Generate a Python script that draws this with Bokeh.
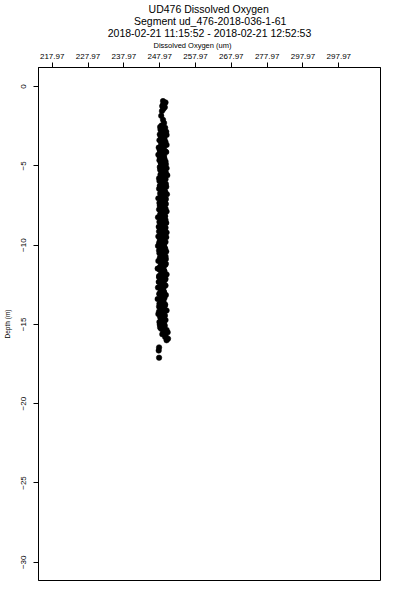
from bokeh.plotting import figure
from bokeh.models import FixedTicker, Range1d, ColumnDataSource, Title
from bokeh.embed import file_html
from bokeh.resources import INLINE

title_lines = ["UD476 Dissolved Oxygen",
               "Segment ud_476-2018-036-1-61",
               "2018-02-21 11:15:52 - 2018-02-21 12:52:53"]
title_indent = [14, 9, 0]  # leading no-break spaces that centre each line in the block
x_label = "Dissolved Oxygen (um)"
y_label = "Depth (m)"

x_ticks = [217.97, 227.97, 237.97, 247.97, 257.97, 267.97, 277.97, 287.97, 297.97]
x_tick_labels = ["217.97", "227.97", "237.97", "247.97", "257.97", "267.97", "277.97", "297.97", "297.97"]
y_ticks = [0, -5, -10, -15, -20, -25, -30]

depth_a = [
    -0.92, -1.05, -1.18, -1.30, -1.42, -1.55, -1.85, -2.10, -2.45, -2.60,
    -2.72, -2.85, -2.95, -3.05, -3.15, -3.25, -3.38, -3.50, -3.62, -3.75,
    -3.85, -3.96, -4.08, -4.18, -4.30, -4.42, -4.55, -4.65, -4.78, -4.90,
    -5.02, -5.15, -5.25, -5.38, -5.50, -5.60, -5.72, -5.85, -5.95, -6.08,
    -6.20, -6.32, -6.45, -6.55, -6.68, -6.80, -6.92, -7.05, -7.15, -7.28,
    -7.40, -7.52, -7.65, -7.75, -7.88, -8.00, -8.12, -8.25, -8.35, -8.48,
    -8.60, -8.72, -8.85, -8.95, -9.08, -9.20, -9.32, -9.45, -9.55, -9.68,
    -9.80, -9.92, -10.05, -10.15, -10.28, -10.40, -10.52, -10.65, -10.75, -10.88,
    -11.00, -11.12, -11.25, -11.35, -11.48, -11.60, -11.72, -11.85, -11.95, -12.08,
    -12.20, -12.32, -12.45, -12.55, -12.68, -12.80, -12.92, -13.05, -13.15, -13.28,
    -13.40, -13.52, -13.65, -13.75, -13.88, -14.00, -14.12, -14.25, -14.35, -14.48,
    -14.60, -14.72, -14.85, -14.95, -15.08, -15.20, -15.35, -15.50, -15.70, -15.90,
    -16.45, -16.65, -17.10,
]
oxygen_a = [
    248.9, 249.3, 248.8, 249.4, 249.0, 248.6, 248.4, 248.9, 248.5, 249.5,
    248.2, 249.8, 248.9, 249.9, 248.3, 249.2, 247.9, 249.6, 248.4, 249.1,
    247.7, 248.8, 249.5, 248.1, 247.6, 248.7, 249.3, 247.9, 248.4, 249.7,
    248.6, 249.9, 248.1, 249.4, 248.8, 250.1, 248.3, 249.6, 247.9, 249.0,
    248.5, 249.8, 247.8, 249.2, 248.4, 250.0, 248.9, 247.6, 249.5, 248.2,
    249.7, 248.0, 249.1, 247.8, 249.9, 248.6, 249.3, 247.5, 249.0, 248.3,
    249.8, 248.7, 247.7, 249.4, 248.1, 249.9, 248.5, 247.6, 249.2, 248.0,
    249.6, 248.8, 247.5, 249.3, 248.2, 249.8, 247.9, 249.0, 248.4, 249.7,
    247.6, 248.9, 249.5, 248.1, 247.4, 249.2, 248.6, 249.9, 247.8, 248.5,
    249.4, 247.7, 248.8, 249.6, 247.5, 248.3, 249.1, 247.9, 249.7, 248.6,
    247.4, 249.0, 248.2, 249.5, 247.8, 248.7, 249.9, 248.0, 247.6, 249.3,
    248.5, 249.6, 247.9, 248.8, 249.4, 248.1, 249.9, 250.2, 249.6, 250.3,
    247.8, 247.7, 247.8,
]
depth_b = [
    -1.00, -1.25, -2.30, -2.55, -2.68, -2.80, -2.92, -3.02, -3.12, -3.22,
    -3.33, -3.45, -3.56, -3.68, -3.80, -3.90, -4.02, -4.13, -4.24, -4.36,
    -4.48, -4.60, -4.72, -4.84, -4.96, -5.08, -5.20, -5.32, -5.44, -5.55,
    -5.66, -5.78, -5.90, -6.02, -6.14, -6.26, -6.38, -6.50, -6.62, -6.74,
    -6.86, -6.98, -7.10, -7.22, -7.34, -7.46, -7.58, -7.70, -7.82, -7.94,
    -8.06, -8.18, -8.30, -8.42, -8.54, -8.66, -8.78, -8.90, -9.02, -9.14,
    -9.26, -9.38, -9.50, -9.62, -9.74, -9.86, -9.98, -10.10, -10.22, -10.34,
    -10.46, -10.58, -10.70, -10.82, -10.94, -11.06, -11.18, -11.30, -11.42, -11.54,
    -11.66, -11.78, -11.90, -12.02, -12.14, -12.26, -12.38, -12.50, -12.62, -12.74,
    -12.86, -12.98, -13.10, -13.22, -13.34, -13.46, -13.58, -13.70, -13.82, -13.94,
    -14.06, -14.18, -14.30, -14.42, -14.54, -14.66, -14.78, -14.90, -15.02, -15.14,
    -15.28, -15.45, -15.62, -15.80, -16.00,
]
oxygen_b = [
    249.6, 248.7, 249.2, 248.1, 249.0, 248.6, 249.4, 248.0, 249.1, 248.5,
    249.3, 248.3, 248.8, 249.9, 248.5, 249.1, 248.0, 249.8, 248.9, 249.2,
    248.0, 249.0, 249.6, 248.3, 249.1, 248.0, 249.3, 248.5, 249.7, 248.2,
    249.4, 247.8, 249.0, 248.5, 249.7, 248.0, 249.1, 248.8, 249.5, 248.1,
    249.0, 248.3, 249.7, 248.9, 247.9, 249.3, 248.5, 249.6, 248.3, 249.2,
    248.1, 249.5, 248.4, 249.6, 247.9, 249.1, 248.3, 249.6, 248.9, 247.8,
    249.1, 248.3, 249.8, 248.6, 249.0, 247.8, 249.2, 248.7, 249.5, 247.8,
    249.0, 248.5, 249.6, 248.0, 249.1, 248.3, 249.7, 248.4, 249.0, 247.9,
    249.3, 248.4, 249.0, 247.8, 249.6, 248.2, 248.9, 249.3, 248.0, 249.0,
    248.4, 249.2, 247.9, 248.7, 249.3, 248.2, 249.0, 247.9, 249.4, 248.6,
    249.1, 247.8, 248.7, 249.4, 248.1, 248.9, 248.3, 249.2, 248.0, 248.7,
    248.4, 249.0, 248.7, 249.5, 249.9,
]

FONT = "Liberation Sans"

p = figure(frame_width=342, frame_height=513, title=None,
           x_range=Range1d(214.15, 309.6), y_range=Range1d(-31.15, 1.2),
           x_axis_location="above", y_axis_location="left",
           output_backend="svg", toolbar_location=None,
           min_border_left=38, min_border_right=20, min_border_top=67, min_border_bottom=20,
           background_fill_color="white", border_fill_color="white")

p.grid.visible = False
p.outline_line_color = "black"
p.outline_line_width = 1
p.outline_line_alpha = 1.0

xa = p.xaxis[0]
xa.ticker = FixedTicker(ticks=x_ticks)
xa.major_label_overrides = {t: l for t, l in zip(x_ticks, x_tick_labels)}
ya = p.yaxis[0]
ya.ticker = FixedTicker(ticks=y_ticks)
ya.major_label_orientation = "vertical"
ya.axis_label = y_label
ya.axis_label_text_font = FONT
ya.axis_label_text_font_size = "6.5px"
ya.axis_label_text_font_style = "normal"
ya.axis_label_text_color = "black"
ya.axis_label_standoff = 8
for ax in (xa, ya):
    ax.major_label_text_font = FONT
    ax.major_label_text_font_size = "8px"
    ax.major_label_text_color = "black"
    ax.major_tick_out = 5
    ax.major_tick_in = 0
    ax.minor_tick_out = 0
    ax.minor_tick_in = 0
    ax.major_tick_line_color = "black"
    ax.axis_line_color = "black"
xa.major_label_standoff = 4
ya.major_label_standoff = 7

src_a = ColumnDataSource(dict(x=oxygen_a, y=depth_a))
src_b = ColumnDataSource(dict(x=oxygen_b, y=depth_b))
for s in (src_a, src_b):
    p.scatter("x", "y", source=s, size=5.5, fill_color="black", line_color="black", line_width=0.5)

p.add_layout(Title(text=x_label, align="left", offset=115, standoff=1,
                   text_font=FONT, text_font_size="7.5px", text_font_style="normal",
                   text_color="black"), "above")
title_text = "\n".join("\u00a0" * n + t for n, t in zip(title_indent, title_lines))
p.add_layout(Title(text=title_text, align="center", standoff=0,
                   text_line_height=1.0,
                   text_font=FONT, text_font_size="10.5px", text_font_style="normal",
                   text_color="black"), "above")

open("out.html", "w").write(file_html(p, INLINE))
